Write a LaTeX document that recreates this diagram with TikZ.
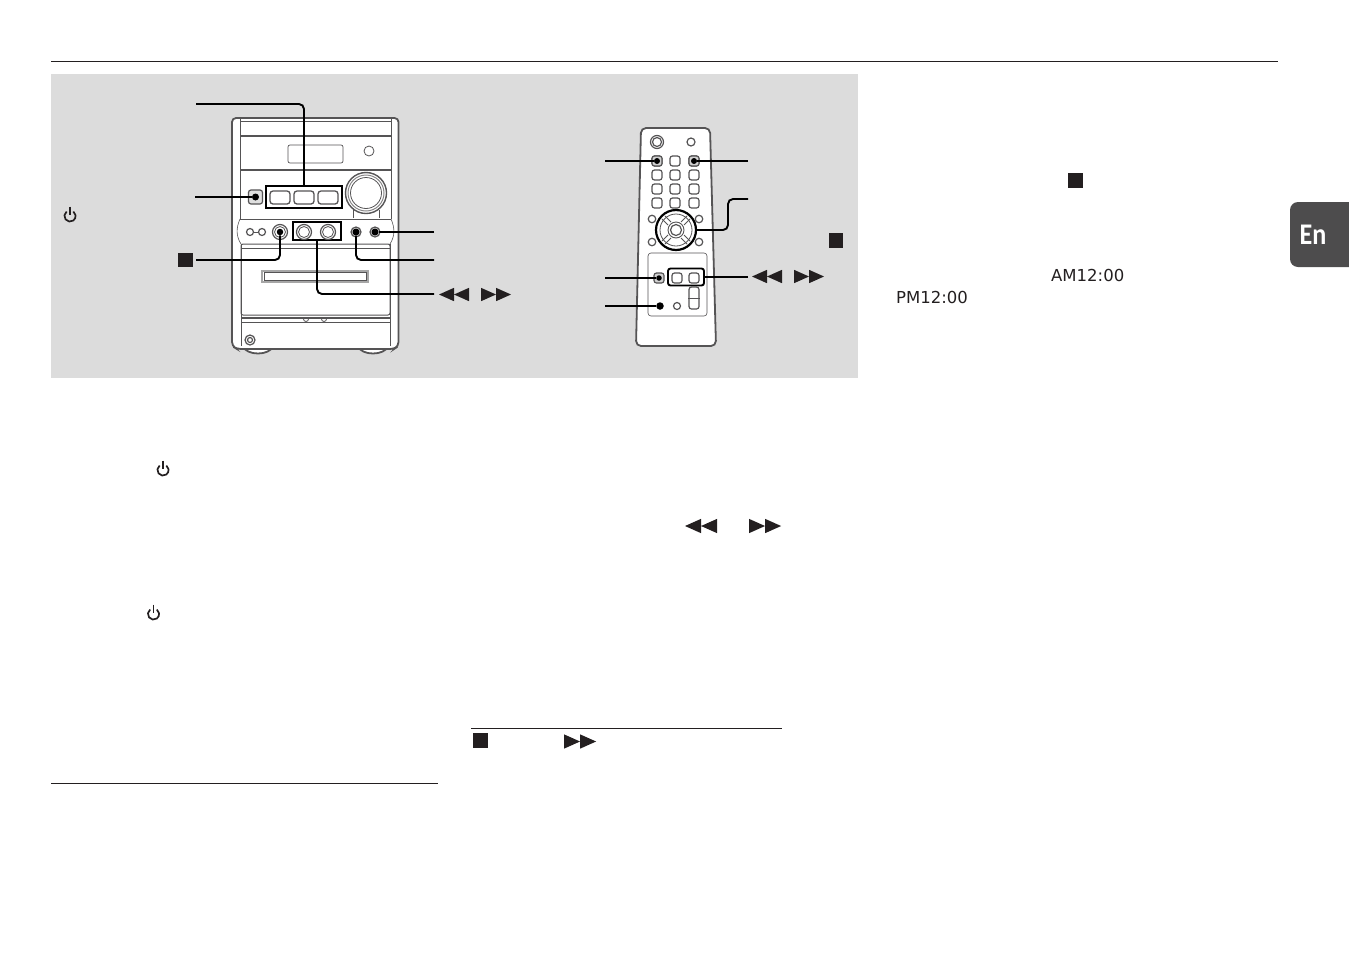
\documentclass[tikz,border=0pt]{standalone}
\usepackage{fontspec}
\setmainfont{DejaVu Sans}
\newfontfamily\tabfont{Carlito}
\usetikzlibrary{positioning, calc}
\definecolor{inkdark}{HTML}{231F20}
\definecolor{linegrey}{HTML}{555455}
\definecolor{panelgrey}{HTML}{DCDCDC}
\definecolor{tabgrey}{HTML}{4D4C4D}

\begin{document}
\begin{tikzpicture}[
  x=1pt, y=-1pt,
  rulebar/.style={line width=1pt, draw=inkdark},
  outline/.style={line width=1.8pt, draw=linegrey, fill=white},
  thinline/.style={line width=1pt, draw=linegrey},
  leader/.style={line width=1.9pt, draw=black, rounded corners=5pt},
  callbox/.style={rectangle, line width=1.9pt, draw=black, inner sep=0pt},
  keycap/.style={rectangle, rounded corners=2.5pt, line width=1.2pt, draw=linegrey, fill=white, inner sep=0pt, minimum width=#1, minimum height=#1},
  keywide/.style={rectangle, rounded corners=3pt, line width=1.3pt, draw=linegrey, fill=white, inner sep=0pt, minimum width=20pt, minimum height=13pt},
  knob/.style={circle, line width=1.2pt, draw=linegrey, fill=white, inner sep=0pt, minimum size=#1},
  spot/.style={circle, fill=black, inner sep=0pt, minimum size=#1},
  stopmark/.style={rectangle, fill=inkdark, inner sep=0pt, minimum size=14.5pt},
  lcdtext/.style={inkdark, font=\fontsize{16.5}{18}\selectfont, inner sep=0pt},
  rewmark/.pic={\fill[inkdark] (0,0) -- (15,-6.7) -- (15,6.7) -- cycle (15,0) -- (30,-6.7) -- (30,6.7) -- cycle;},
  fwdmark/.pic={\fill[inkdark] (0,-6.7) -- (15,0) -- (0,6.7) -- cycle (15,-6.7) -- (30,0) -- (15,6.7) -- cycle;},
  powermark/.pic={\draw[inkdark, line width=1.7pt] (-3.36,-4.48) arc (233:-53:5.6); \draw[inkdark, line width=1.7pt] (0,-9.5) -- (0,-1);}
]

\useasboundingbox (0,0) rectangle (1349,954);

\draw[rulebar] (51,61) -- (1278,61);
\fill[panelgrey] (51,74) rectangle (858,378);
\draw[rulebar] (51,783.5) -- (438,783.5);
\draw[rulebar] (471,728.5) -- (782,728.5);

% The stereo
\draw[outline] (243,346) .. controls (246,356) and (270,356) .. (273,346) -- cycle;
\draw[outline] (358,346) .. controls (361,356) and (385,356) .. (388,346) -- cycle;
\draw[outline, rounded corners=4pt] (232,346) -- (232,118) -- (398.5,118) -- (398.5,346) -- (394,349) -- (237,349) -- cycle;
\draw[thinline] (240,118) -- (240,219);
\draw[thinline] (391,118) -- (391,219);
\draw[line width=0.6pt, draw=linegrey] (240,219) .. controls (236,228) and (236,236) .. (241,244);
\draw[line width=0.6pt, draw=linegrey] (391,219) .. controls (395,228) and (395,236) .. (390,244);
\draw[thinline] (241,244) -- (241,346) (390,244) -- (390,346);
\draw[thinline] (240,121) -- (391,121);
\draw[thinline, line width=1.4pt] (240,136) -- (391,136) (240,170) -- (391,170);
\draw[thinline] (240,219) -- (391,219);
\node[rectangle, rounded corners=2pt, line width=0.7pt, draw=linegrey, minimum width=55pt, minimum height=18pt, inner sep=0pt] (lcd) at (315.5,154) {};
\node[knob=10pt, line width=0.8pt] (phones) at (369,151) {};
\draw[thinline] (353,210) -- (353,218) (379,210) -- (379,218);
\node[knob=41pt, line width=1.4pt] (dial) at (366,193) {};
\node[knob=36pt, line width=1pt, draw=linegrey!70] at (dial) {};
\node[knob=31pt, line width=0.8pt] at (dial) {};
\node[keycap=14pt, fill=gray!25] (enter) at (255.5,197) {};
\node[spot=7pt] (enterdot) at (255.5,197) {};
\node[callbox, fill=white, minimum width=76pt, minimum height=22pt] (modebox) at (304,197) {};
\node[keywide] (cd) at (280,197.5) {};
\node[keywide] (tape) at (304,197.5) {};
\node[keywide] (tuner) at (328,197.5) {};
\node[knob=7pt] (auxl) at (250,232) {};
\node[knob=7pt] (auxr) at (262,232) {};
\draw[thinline] (auxl) -- (auxr);
\node[knob=15pt] (stopring) at (280,232) {};
\node[knob=11pt, line width=0.8pt] at (stopring) {};
\node[spot=6.5pt] (stopdot) at (280,232) {};
\node[callbox, minimum width=48pt, minimum height=18pt] (seekbox) at (317,231) {};
\node[knob=15pt] (seekl) at (304,232) {};
\node[knob=11pt, line width=0.8pt] at (seekl) {};
\node[knob=15pt] (seekr) at (328,232) {};
\node[knob=11pt, line width=0.8pt] at (seekr) {};
\node[knob=10pt, fill=gray!30] at (356,232) {};
\node[knob=10pt, fill=gray!30] at (375,232) {};
\node[spot=7pt] (clockdot) at (356,232) {};
\node[spot=7pt] (timerdot) at (375,232) {};
\draw[thinline, rounded corners=2pt] (241,315) -- (241,244) -- (390,244) -- (390,315) -- cycle;
\draw[thinline] (241,248) -- (390,248);
\node[rectangle, line width=1.5pt, draw=gray!70, minimum width=106pt, minimum height=11pt, inner sep=0pt] (slotframe) at (315,276.5) {};
\node[rectangle, thinline, minimum width=102pt, minimum height=7.5pt, inner sep=0pt] (slot) at (315,276.5) {};
\draw[thinline, line width=1.4pt] (241,318) -- (390,318);
\draw[thinline] (241,322.5) -- (390,322.5);
\draw[line width=0.8pt, draw=linegrey, fill=white] (303.5,319) arc (180:0:2.5) (321.5,319) arc (180:0:2.5);
\node[knob=10pt] (reset) at (250,340) {};
\node[knob=5pt] at (reset) {};

% The remote
\draw[outline, rounded corners=5pt] (641,128) -- (710,128) -- (716,346) -- (636,346) -- cycle;
\node[knob=13pt] (rmpower) at (657,142) {};
\node[knob=9pt] at (rmpower) {};
\node[knob=8pt] (rmopen) at (691,142) {};
\foreach \rowy in {161,175,189,203}
  \foreach \colx in {657,675,694}
    \node[keycap=10pt] at (\colx,\rowy) {};
\node[keycap=10pt, fill=gray!35] at (657,161) {};
\node[keycap=10pt, fill=gray!35] at (694,161) {};
\node[spot=6pt] (rmclock) at (657,161) {};
\node[spot=6pt] (rmtimer) at (694,161) {};
\foreach \cornx/\corny in {652/219,699/219,652/242,699/242}
  \node[knob=7.5pt] at (\cornx,\corny) {};
\node[knob=40pt, line width=2.2pt, draw=black] (joy) at (676,230) {};
\node[knob=32pt, line width=0.8pt] at (joy) {};
\foreach \sx/\sy in {1/1,1/-1,-1/1,-1/-1}
  \draw[thinline, line width=0.9pt] ($(joy)+(5*\sx,8*\sy)$) -- ($(joy)+(11*\sx,14*\sy)$) ($(joy)+(8*\sx,5*\sy)$) -- ($(joy)+(14*\sx,11*\sy)$);
\node[knob=16pt, line width=0.9pt] at (joy) {};
\node[knob=11pt] at (joy) {};
\draw[line width=0.6pt, draw=linegrey, rounded corners=3pt] (648,253) rectangle (707,316);
\node[keycap=10pt, fill=gray!35] (rmenter) at (659,278) {};
\node[spot=5.5pt] (rmenterdot) at (659,278) {};
\node[callbox, rounded corners=2.5pt, minimum width=36pt, minimum height=17pt] (rmseek) at (686,277) {};
\node[keycap=10pt] at (677,278) {};
\node[keycap=10pt] at (694,278) {};
\node[keycap=10pt, minimum height=22pt] (slider) at (694,298) {};
\draw[thinline] (slider.west) -- (slider.east);
\node[spot=7.5pt] (rmsleep) at (660,306) {};
\node[knob=7pt] (rmother) at (677,306) {};

% The leaders
\coordinate (modefree) at (196,104);
\coordinate (enterfree) at (195,197);
\coordinate (stopfree) at (196,260);
\coordinate (timerfree) at (434,232);
\coordinate (clockfree) at (434,260);
\coordinate (seekfree) at (434,294);
\draw[leader] (modefree) -| (modebox.north);
\draw[leader] (enterfree) -- (enterdot);
\draw[leader] (stopfree) -| (stopdot);
\draw[leader] (timerfree) -- (timerdot);
\draw[leader] (clockfree) -| (clockdot);
\draw[leader] (seekfree) -| (seekbox.south);

\coordinate (rmclockfree) at (605,161);
\coordinate (rmtimerfree) at (748,161);
\coordinate (joyfree) at (748,199);
\coordinate (joybend) at (728,230);
\coordinate (rmenterfree) at (605,278);
\coordinate (rmsleepfree) at (605,306);
\coordinate (rmseekfree) at (748,277);
\draw[leader] (rmclockfree) -- (rmclock);
\draw[leader] (rmtimerfree) -- (rmtimer);
\draw[leader] (joyfree) -| (joybend) -- (joy.east);
\draw[leader] (rmenterfree) -- (rmenterdot);
\draw[leader] (rmsleepfree) -- (rmsleep);
\draw[leader] (rmseekfree) -- (rmseek.east);

% The marks
\node[stopmark] (stopa) at (185.5,260) {};
\node[stopmark] (stopb) at (836,240.5) {};
\node[stopmark] (stopc) at (1075.5,180.5) {};
\node[stopmark] (stopd) at (480.5,740.5) {};
\pic at (439,294.5) {rewmark};
\pic at (481,294.5) {fwdmark};
\pic at (752,276.5) {rewmark};
\pic at (794,276.5) {fwdmark};
\pic[scale=1.07] at (685,526) {rewmark};
\pic[scale=1.07] at (749,526) {fwdmark};
\pic[scale=1.07] at (564,741.5) {fwdmark};
\pic at (70,216) {powermark};
\pic at (163,470) {powermark};
\pic at (153.5,614) {powermark};

\node[lcdtext, anchor=base west] (amtime) at (1051,281) {AM12:00};
\node[lcdtext, anchor=base west] (pmtime) at (896,303) {PM12:00};

% The tab
\fill[tabgrey, rounded corners=8pt] (1349,202) -- (1290,202) -- (1290,267) -- (1349,267);
\fill[tabgrey] (1340,202) rectangle (1349,267);
\node[white, font=\tabfont\bfseries\fontsize{30}{32}\selectfont, inner sep=0pt, transform shape, xscale=.87, anchor=base] (entab) at (1313,244) {En};

\end{tikzpicture}
\end{document}
